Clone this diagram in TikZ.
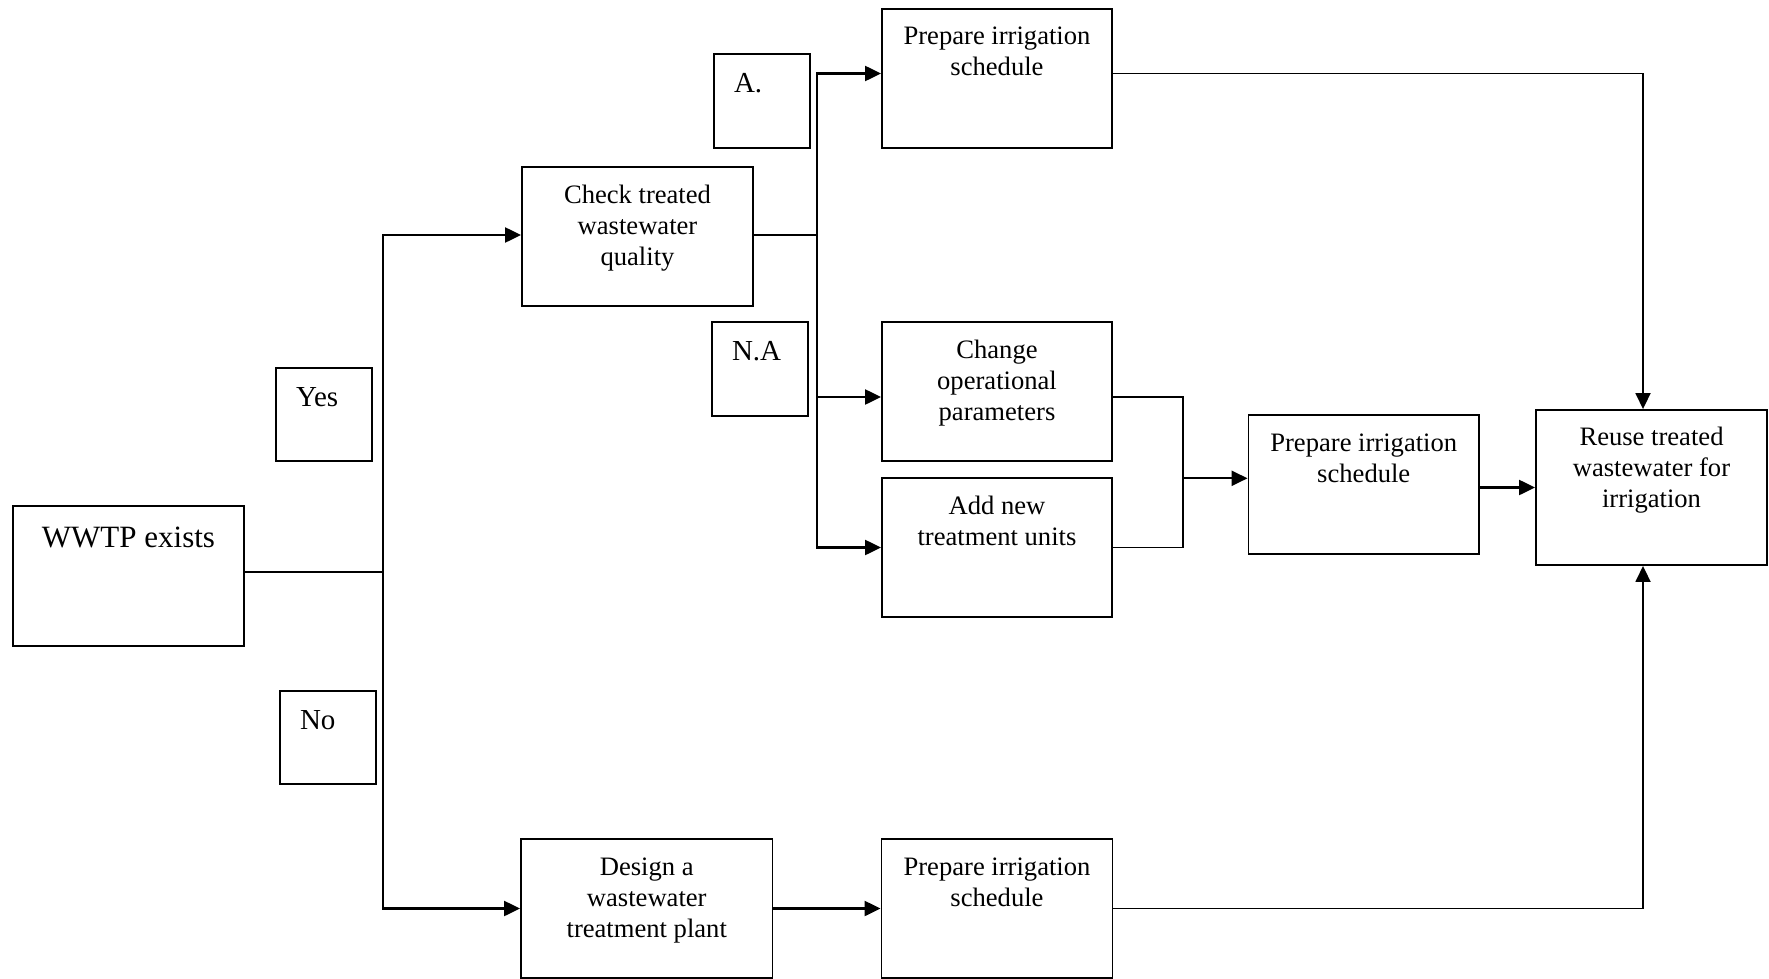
\documentclass[tikz,border=0pt]{standalone}
\usepackage{fontspec}
\setmainfont{Liberation Serif}
\usetikzlibrary{arrows.meta}
\newcommand{\mainsize}{\fontsize{26.6}{31}\selectfont}
\newcommand{\boxlines}[4][36pt]{\parbox[c][#3][t]{#2}{\centering\rule{0pt}{#1}#4}}
\newcommand{\tagtext}[3]{\parbox[c][#2][t]{#1}{\noindent\hspace*{20pt}\rule{0pt}{38.5pt}#3}}
\tikzset{every picture/.style={line width=0.75pt}}
\tikzset{
  box/.style={draw, line width=1.9pt, inner sep=0pt, font=\mainsize},
  tagbox/.style={draw, line width=1.9pt, inner sep=0pt, font=\fontsize{29}{33}\selectfont},
  link/.style={line width=2.5pt},
  arrowlink/.style={line width=2.3pt, -{Triangle[length=16pt,width=15pt]}},
  thinlink/.style={line width=1.8pt},
  thinarrow/.style={line width=1.8pt, -{Triangle[length=16pt,width=15pt]}},
}

\begin{document}
\begin{tikzpicture}[x=1pt,y=1pt,yscale=-1,xscale=1]
\useasboundingbox (0,0) rectangle (1769,979);
\node[box, font=\fontsize{31}{36}\selectfont] (wwtp) at (128.5,576) {\boxlines[41pt]{231pt}{140pt}{WWTP exists}};
\node[tagbox] (yes) at (324,414.5) {\tagtext{96pt}{93pt}{Yes}};
\node[tagbox] (no) at (328,737.5) {\tagtext{96pt}{93pt}{No}};
\node[box] (check) at (637.5,236.5) {\boxlines{231pt}{139pt}{Check treated\\wastewater\\quality}};
\node[tagbox] (accept) at (762,101) {\tagtext{96pt}{94pt}{A.}};
\node[tagbox] (notaccept) at (760,369) {\tagtext{96pt}{94pt}{N.A}};
\node[box] (prepA) at (997,78.5) {\boxlines{230pt}{139pt}{Prepare irrigation\\schedule}};
\node[box] (change) at (997,391.5) {\boxlines{230pt}{139pt}{Change\\operational\\parameters}};
\node[box] (addunit) at (997,547.5) {\boxlines{230pt}{139pt}{Add new\\treatment units}};
\node[box] (prepB) at (1363.75,484.5) {\boxlines{230.5pt}{139pt}{Prepare irrigation\\schedule}};
\node[box] (reuse) at (1651.5,487.5) {\boxlines[35pt]{231pt}{155pt}{Reuse treated\\wastewater for\\irrigation}};
\node[box] (design) at (646.75,908.5) {\boxlines{251.5pt}{139pt}{Design a\\wastewater\\treatment plant}};
\node[box] (prepC) at (997,908.5) {\boxlines{231pt}{139pt}{Prepare irrigation\\schedule}};

\coordinate (fork) at (383,572);
\coordinate (split) at (817,235);
\coordinate (upper) at (817,73.5);
\coordinate (middle) at (817,397);
\coordinate (merge) at (1182.7,478.3);
\coordinate (rise) at (1643,908);

\draw[link] (wwtp.east |- fork) -- (fork);
\draw[arrowlink] (fork) |- (split -| check.west);
\draw[arrowlink] (fork) |- (design.west);
\draw[link] (check.east |- split) -- (split);
\draw[arrowlink] (split) |- (upper -| prepA.west);
\draw[arrowlink] (split) |- (middle -| change.west);
\draw[arrowlink] (split) |- (addunit.west);
\draw[thinlink] (middle -| change.east) -| (merge) |- (addunit.east);
\draw[arrowlink] (merge) -- (merge -| prepB.west);
\draw[arrowlink] (prepB.east |- reuse.west) -- (reuse.west);
\draw[thinarrow] (upper -| prepA.east) -| (rise |- reuse.north);
\draw[arrowlink] (design.east) -- (prepC.west);
\draw[thinarrow] (prepC.east) -| (rise |- reuse.south);
\end{tikzpicture}
\end{document}
